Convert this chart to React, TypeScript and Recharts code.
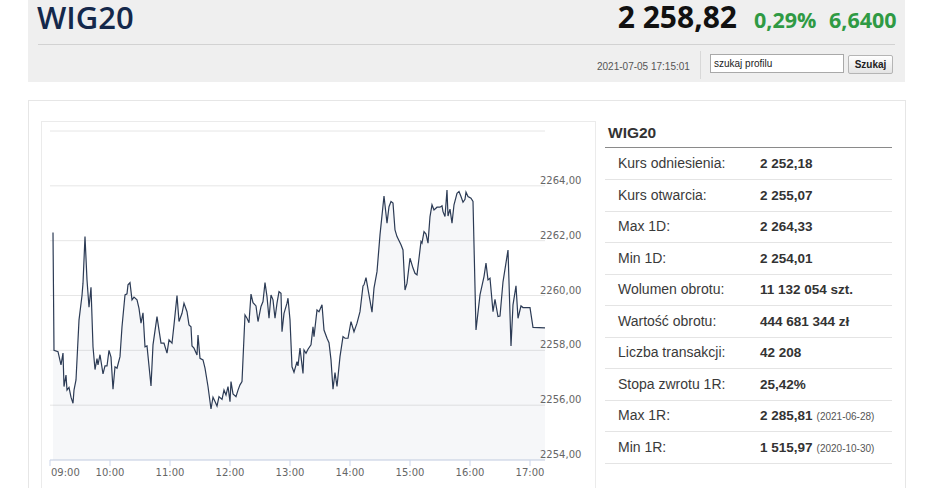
import React from 'react';
import { AreaChart, Area, XAxis, YAxis, CartesianGrid } from 'recharts';

// minutes after 09:00 and WIG20 level
const MINUTES = [
  3, 4, 8, 11, 13, 14, 16, 17, 19, 21,
  23, 24, 26, 29, 32, 33, 35, 37, 39, 41,
  43, 45, 47, 48, 50, 53, 55, 57, 59, 61,
  63, 65, 67, 70, 72, 75, 77, 78, 80, 82,
  84, 87, 89, 91, 93, 95, 97, 101, 103, 107,
  109, 111, 114, 117, 119, 122, 124, 127, 129, 132,
  134, 137, 139, 141, 142, 144, 147, 148, 150, 153,
  155, 158, 161, 163, 165, 167, 169, 172, 174, 176,
  178, 180, 181, 183, 186, 188, 190, 192, 195, 197,
  199, 201, 203, 206, 208, 211, 213, 215, 217, 219,
  221, 223, 225, 227, 229, 231, 232, 234, 237, 238,
  240, 242, 244, 247, 248, 250, 253, 254, 256, 258,
  261, 263, 264, 267, 269, 272, 274, 277, 279, 281,
  283, 285, 287, 290, 293, 295, 298, 301, 304, 307,
  310, 313, 314, 316, 319, 322, 324, 327, 330, 334,
  337, 339, 341, 343, 345, 347, 351, 353, 355, 357,
  360, 363, 365, 367, 369, 371, 372, 374, 376, 378,
  380, 382, 384, 387, 390, 392, 393, 395, 397, 398,
  400, 402, 404, 407, 409, 411, 413, 415, 416, 418,
  421, 423, 426, 430, 434, 436, 438, 440, 443, 445,
  448, 450, 453, 458, 461, 463, 466, 468, 471, 473,
  480, 483, 495,
];

const PRICES = [
  2262.3, 2258.0, 2257.95, 2257.47, 2257.9, 2256.68, 2257.1, 2256.55, 2256.65, 2256.29,
  2256.07, 2256.55, 2256.92, 2259.1, 2260.0, 2260.45, 2262.15, 2260.57, 2259.57, 2260.3,
  2258.13, 2257.3, 2257.7, 2257.47, 2257.84, 2257.14, 2257.43, 2257.43, 2258.0, 2257.75,
  2256.58, 2257.4, 2257.35, 2257.77, 2258.86, 2260.02, 2260.06, 2260.39, 2260.47, 2259.84,
  2259.94, 2259.84, 2259.53, 2258.99, 2259.37, 2258.13, 2258.16, 2256.7, 2258.2, 2259.23,
  2258.74, 2258.26, 2258.26, 2257.9, 2258.38, 2258.26, 2258.93, 2260.0, 2259.05, 2259.35,
  2259.72, 2259.41, 2258.93, 2258.86, 2258.16, 2258.08, 2257.83, 2258.56, 2257.71, 2257.65,
  2257.35, 2256.68, 2255.86, 2256.29, 2256.13, 2255.97, 2256.31, 2256.21, 2256.55, 2256.37,
  2256.68, 2256.13, 2256.86, 2256.41, 2256.31, 2256.55, 2256.74, 2256.86, 2259.29, 2259.17,
  2259.01, 2260.05, 2259.74, 2259.62, 2259.05, 2259.6, 2259.78, 2260.47, 2259.96, 2259.17,
  2260.02, 2259.84, 2259.17, 2259.72, 2260.14, 2260.08, 2258.68, 2259.35, 2259.72, 2259.9,
  2259.11, 2257.4, 2257.2, 2257.59, 2257.43, 2258.08, 2257.16, 2258.01, 2257.89, 2258.04,
  2258.2, 2258.86, 2258.5, 2259.47, 2259.41, 2259.66, 2258.74, 2258.44, 2258.28, 2257.65,
  2256.58, 2257.19, 2256.68, 2257.77, 2258.5, 2258.44, 2258.44, 2259.05, 2258.68, 2258.99,
  2259.41, 2260.35, 2260.39, 2260.65, 2260.02, 2259.39, 2260.27, 2260.87, 2262.21, 2263.63,
  2262.64, 2263.24, 2263.43, 2263.37, 2262.39, 2262.15, 2261.85, 2261.66, 2260.2, 2260.45,
  2261.36, 2261.0, 2260.81, 2260.75, 2261.36, 2261.97, 2261.91, 2262.33, 2262.24, 2261.91,
  2262.88, 2263.31, 2263.12, 2263.22, 2263.22, 2263.27, 2263.06, 2262.88, 2263.85, 2262.9,
  2263.15, 2262.64, 2263.31, 2263.73, 2263.79, 2263.61, 2263.4, 2263.51, 2263.77, 2263.61,
  2263.55, 2263.43, 2258.74, 2260.02, 2260.69, 2261.18, 2260.57, 2260.63, 2259.41, 2259.86,
  2259.23, 2259.25, 2260.5, 2261.66, 2258.16, 2259.66, 2260.35, 2259.17, 2259.62, 2259.56,
  2259.56, 2258.84, 2258.82,
];

const X_TICKS = [0, 60, 120, 180, 240, 300, 360, 420, 480];
const X_TICK_LABELS = ['09:00', '10:00', '11:00', '12:00', '13:00', '14:00', '15:00', '16:00', '17:00'];
const Y_TICKS = [2254, 2256, 2258, 2260, 2262, 2264, 2266];

const STAT_LABELS = [
  'Kurs odniesienia:', 'Kurs otwarcia:', 'Max 1D:', 'Min 1D:', 'Wolumen obrotu:',
  'Wartość obrotu:', 'Liczba transakcji:', 'Stopa zwrotu 1R:', 'Max 1R:', 'Min 1R:',
];
const STAT_VALUES = [
  '2 252,18', '2 255,07', '2 264,33', '2 254,01', '11 132 054 szt.',
  '444 681 344 zł', '42 208', '25,42%', '2 285,81', '1 515,97',
];
const STAT_DATES = ['', '', '', '', '', '', '', '', '(2021-06-28)', '(2020-10-30)'];

const data = MINUTES.map((m, i) => ({ m, v: PRICES[i] }));

const AXIS_FONT = '"DejaVu Sans", Verdana, sans-serif';
const HEAD_FONT = '"Open Sans", "Liberation Sans", sans-serif';

const XTick = (p: any) => {
  const i = X_TICKS.indexOf(p.payload.value);
  const first = i === 0;
  return (
    <text
      x={first ? p.x + 1 : p.x}
      y={p.y}
      dy={8}
      textAnchor={first ? 'start' : 'middle'}
      fontFamily={AXIS_FONT}
      fontSize={10}
      fill="#666"
    >
      {X_TICK_LABELS[i]}
    </text>
  );
};

const YTick = (p: any) => {
  const v = p.payload.value;
  if (v === 2266) return <g />;
  return (
    <text x={p.x - 5} y={p.y - 2} textAnchor="start" fontFamily={AXIS_FONT} fontSize={10} fill="#666">
      {v.toFixed(2).replace('.', ',')}
    </text>
  );
};

const abs = (s: React.CSSProperties): React.CSSProperties => ({ position: 'absolute', ...s });

export default function App() {
  return (
    <div
      style={abs({
        left: 0,
        top: 0,
        width: 936,
        height: 488,
        overflow: 'hidden',
        background: '#fff',
        fontFamily: '"Liberation Sans", Arial, sans-serif',
      })}
    >
      {/* header */}
      <div style={abs({ left: 28, top: 0, width: 877, height: 82, background: '#efefef' })} />
      <div
        style={abs({
          left: 37,
          top: 1.5,
          fontFamily: HEAD_FONT,
          fontWeight: 600,
          fontSize: 31,
          lineHeight: '31px',
          color: '#14284b',
          whiteSpace: 'nowrap',
        })}
      >
        WIG20
      </div>
      <div
        style={abs({
          right: 199,
          top: 1.5,
          fontFamily: HEAD_FONT,
          fontSize: 30,
          lineHeight: '30px',
          fontWeight: 700,
          color: '#111',
          whiteSpace: 'nowrap',
        })}
      >
        2 258,82
      </div>
      <div
        style={abs({
          left: 754,
          top: 9.2,
          fontFamily: HEAD_FONT,
          fontSize: 21.5,
          lineHeight: '21.5px',
          fontWeight: 700,
          color: '#2f9a44',
          whiteSpace: 'nowrap',
        })}
      >
        0,29%
      </div>
      <div
        style={abs({
          left: 829,
          top: 9.2,
          fontFamily: HEAD_FONT,
          fontSize: 21.5,
          lineHeight: '21.5px',
          fontWeight: 700,
          color: '#2f9a44',
          whiteSpace: 'nowrap',
        })}
      >
        6,6400
      </div>
      <div style={abs({ left: 38, top: 44, width: 857, height: 1, background: '#d2d2d2' })} />
      <div style={abs({ left: 597, top: 61, fontSize: 10, lineHeight: '12px', color: '#555', whiteSpace: 'nowrap' })}>
        2021-07-05 17:15:01
      </div>
      <div style={abs({ left: 700, top: 51, width: 1, height: 28, background: '#d8d8d8' })} />
      <div
        style={abs({
          left: 710,
          top: 54,
          width: 129,
          height: 17,
          border: '1px solid #a9a9a9',
          background: '#fff',
          fontSize: 10,
          lineHeight: '17px',
          paddingLeft: 3,
          boxSizing: 'content-box',
          color: '#222',
          whiteSpace: 'nowrap',
        })}
      >
        szukaj profilu
      </div>
      <div
        style={abs({
          left: 848,
          top: 55,
          width: 43,
          height: 17,
          border: '1px solid #b5b5b5',
          borderRadius: 2,
          background: 'linear-gradient(#ffffff, #e4e4e4)',
          fontSize: 10,
          lineHeight: '17px',
          fontWeight: 'bold',
          textAlign: 'center',
          color: '#222',
        })}
      >
        Szukaj
      </div>

      {/* panels */}
      <div style={abs({ left: 28, top: 100, width: 876, height: 420, border: '1px solid #e6e6e6' })} />
      <div style={abs({ left: 41, top: 121, width: 553, height: 400, border: '1px solid #ebebeb' })} />

      {/* chart */}
      <div style={abs({ left: 41, top: 121, width: 554, height: 367 })}>
        <AreaChart width={554} height={367} data={data} margin={{ top: 10, left: 9, right: 0, bottom: 0 }}>
          <CartesianGrid horizontal vertical={false} stroke="#e6e6e6" strokeWidth={1} />
          <XAxis
            dataKey="m"
            type="number"
            domain={[0, 495]}
            ticks={X_TICKS}
            interval={0}
            height={28}
            stroke="#ccd6eb"
            tickSize={6}
            tickMargin={2}
            tick={<XTick />}
            allowDataOverflow
          />
          <YAxis
            orientation="right"
            type="number"
            domain={[2254, 2266]}
            ticks={Y_TICKS}
            interval={0}
            width={50}
            axisLine={false}
            tickLine={false}
            tickSize={0}
            tickMargin={0}
            tick={<YTick />}
            allowDataOverflow
          />
          <Area
            type="linear"
            dataKey="v"
            stroke="#2c3b55"
            strokeWidth={1.2}
            fill="#23406e"
            fillOpacity={0.045}
            dot={false}
            activeDot={false}
            isAnimationActive={false}
          />
        </AreaChart>
      </div>

      {/* statistics table */}
      <div
        style={abs({
          left: 608,
          top: 124,
          fontSize: 15.5,
          lineHeight: '18px',
          fontWeight: 'bold',
          color: '#333',
        })}
      >
        WIG20
      </div>
      <div style={abs({ left: 605, top: 147, width: 287, height: 1, background: '#8a8a8a' })} />
      {STAT_LABELS.map((label, i) => {
        const top = 148 + i * 31.55;
        return (
          <React.Fragment key={label}>
            <div
              style={abs({
                left: 618,
                top: top,
                height: 31,
                fontSize: 14,
                lineHeight: '31px',
                color: '#3a3a3a',
                whiteSpace: 'nowrap',
              })}
            >
              {label}
            </div>
            <div
              style={abs({
                left: 760,
                top: top,
                height: 31,
                fontSize: 13.5,
                lineHeight: '31px',
                fontWeight: 'bold',
                color: '#333',
                whiteSpace: 'nowrap',
              })}
            >
              {STAT_VALUES[i]}
              {STAT_DATES[i] ? (
                <span style={{ fontSize: 10, fontWeight: 'normal', color: '#555', marginLeft: 4 }}>{STAT_DATES[i]}</span>
              ) : null}
            </div>
            <div style={abs({ left: 605, top: top + 31, width: 287, height: 1, background: '#e4e4e4' })} />
          </React.Fragment>
        );
      })}
    </div>
  );
}
